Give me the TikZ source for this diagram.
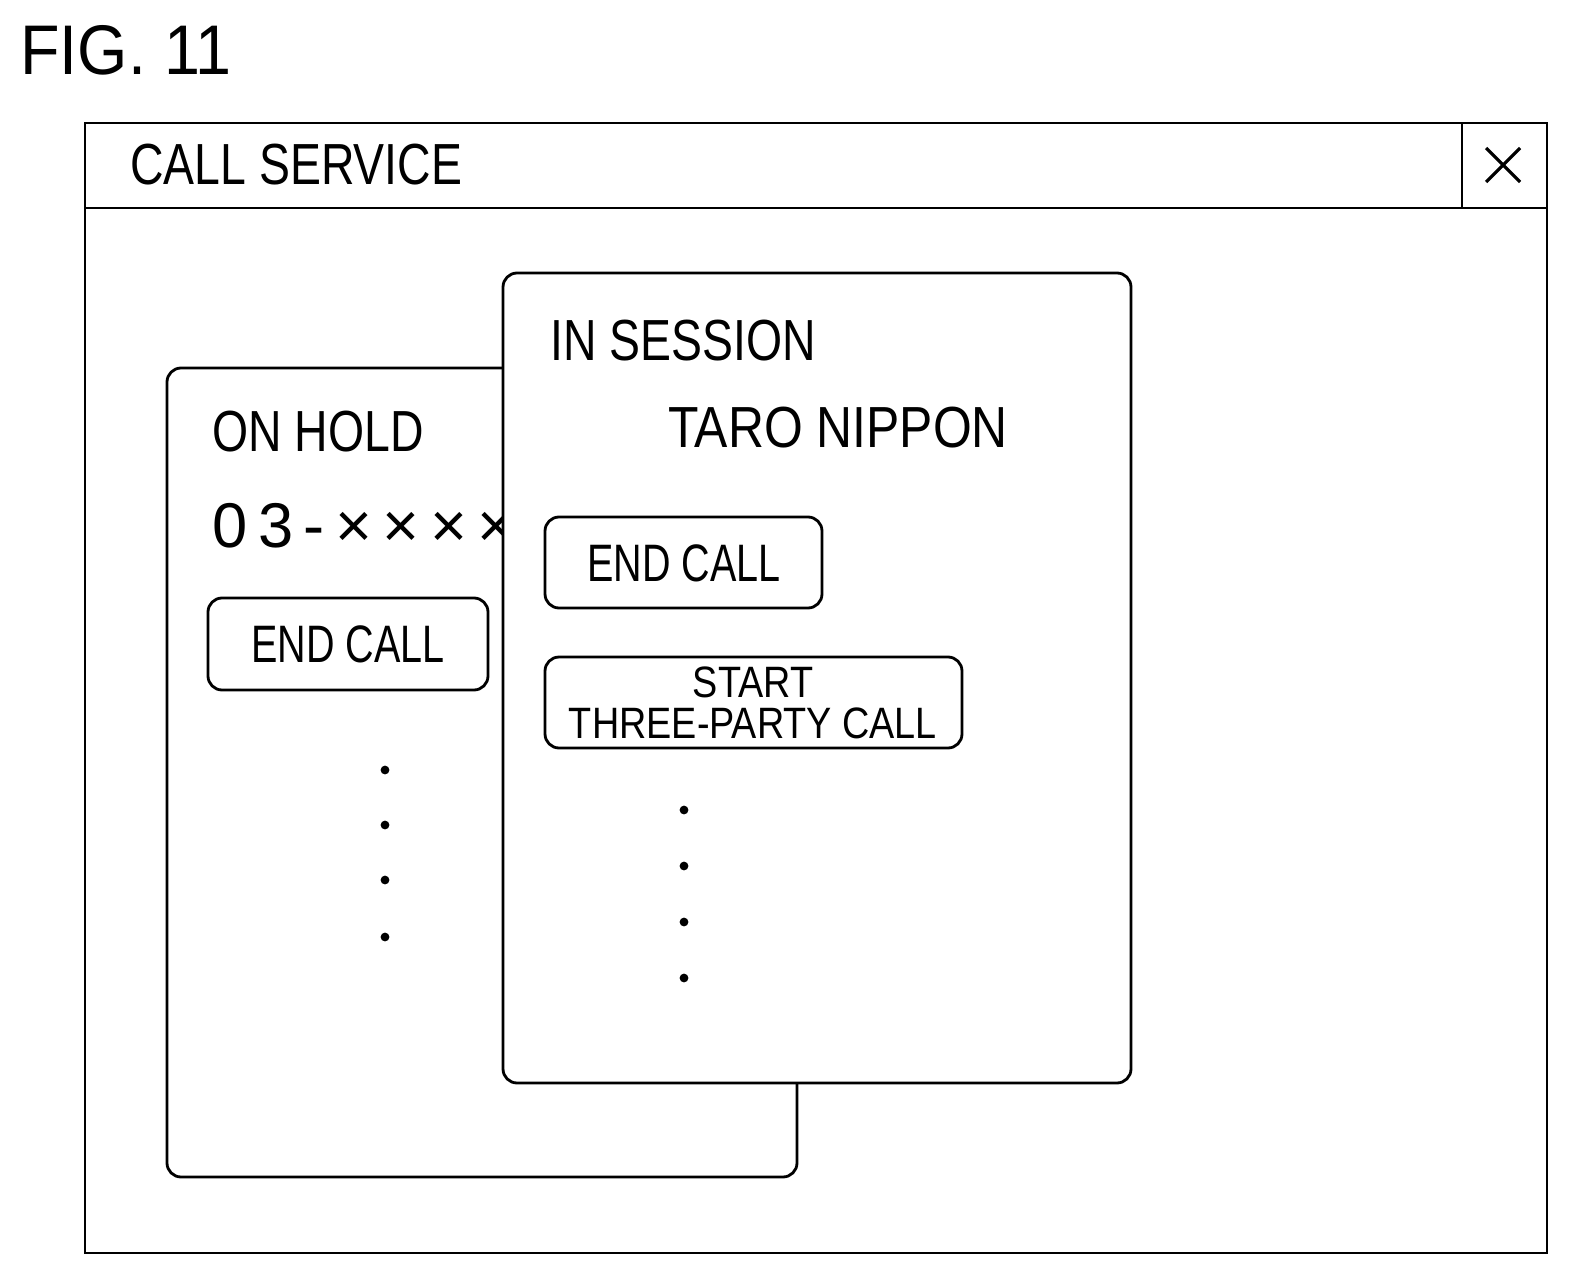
\documentclass[tikz,border=0pt]{standalone}
\usepackage{fontspec}
\usepackage{graphicx}
\setmainfont{Liberation Sans}
\newcommand{\cnd}[2][0.82]{\scalebox{#1}[1]{#2}}
\begin{document}
\begin{tikzpicture}[x=0.02cm,y=-0.02cm,
  frame/.style={draw,line width=1.6pt},
  panel/.style={draw,line width=1.6pt,rounded corners=8pt,fill=white},
  btn/.style={draw,line width=1.6pt,rounded corners=8pt,fill=white},
  txt/.style={inner sep=0pt,font=\fontsize{33}{33}\selectfont},
  dot/.style={circle,fill,inner sep=0pt,minimum size=5pt}]
\useasboundingbox (0,0) rectangle (1578,1284);
\node[txt,anchor=west,font=\fontsize{40}{40}\selectfont] (fig) at (20,50) {\cnd[0.92]{FIG. 11}};
\draw[frame] (85,123) rectangle (1547,1253);
\draw[frame] (85,208) -- (1547,208);
\draw[frame] (1462,123) -- (1462,208);
\coordinate (xc) at (1503,165);
\draw[line width=1.8pt] ([shift={(-17,-17)}]xc) -- ([shift={(17,17)}]xc) ([shift={(-17,17)}]xc) -- ([shift={(17,-17)}]xc);
\node[txt,anchor=west] (title) at (130,165) {\cnd[0.8]{CALL SERVICE}};
% back panel
\draw[panel] (167,368) rectangle (797,1177);
\node[txt,anchor=west] (hold) at (212,432) {\cnd[0.8]{ON HOLD}};
\node[txt,anchor=west,font=\fontsize{36}{36}\selectfont] (num) at (212,526) {0\,3\,-\,×\,×\,×\,×};
\draw[btn] (208,598) rectangle (488,690);
\node[txt,font=\fontsize{30}{30}\selectfont] (ec1) at (348,644) {\cnd[0.75]{END CALL}};
\foreach \y in {770,825,880,937} \node[dot] at (385,\y) {};
% front panel
\draw[panel] (503,273) rectangle (1131,1083);
\node[txt,anchor=west] (sess) at (550,341) {\cnd[0.8]{IN SESSION}};
\node[txt] (taro) at (838,428) {\cnd[0.86]{TARO NIPPON}};
\draw[btn] (545,517) rectangle (822,608);
\node[txt,font=\fontsize{30}{30}\selectfont] (ec2) at (684,563) {\cnd[0.75]{END CALL}};
\draw[btn] (545,657) rectangle (962,748);
\node[txt,font=\fontsize{25}{25}\selectfont,align=center] (three) at (753,703) {\cnd[0.86]{START}\\[-2pt]\cnd[0.86]{THREE-PARTY CALL}};
\foreach \y in {810,866,922,978} \node[dot] at (684,\y) {};
\end{tikzpicture}
\end{document}
